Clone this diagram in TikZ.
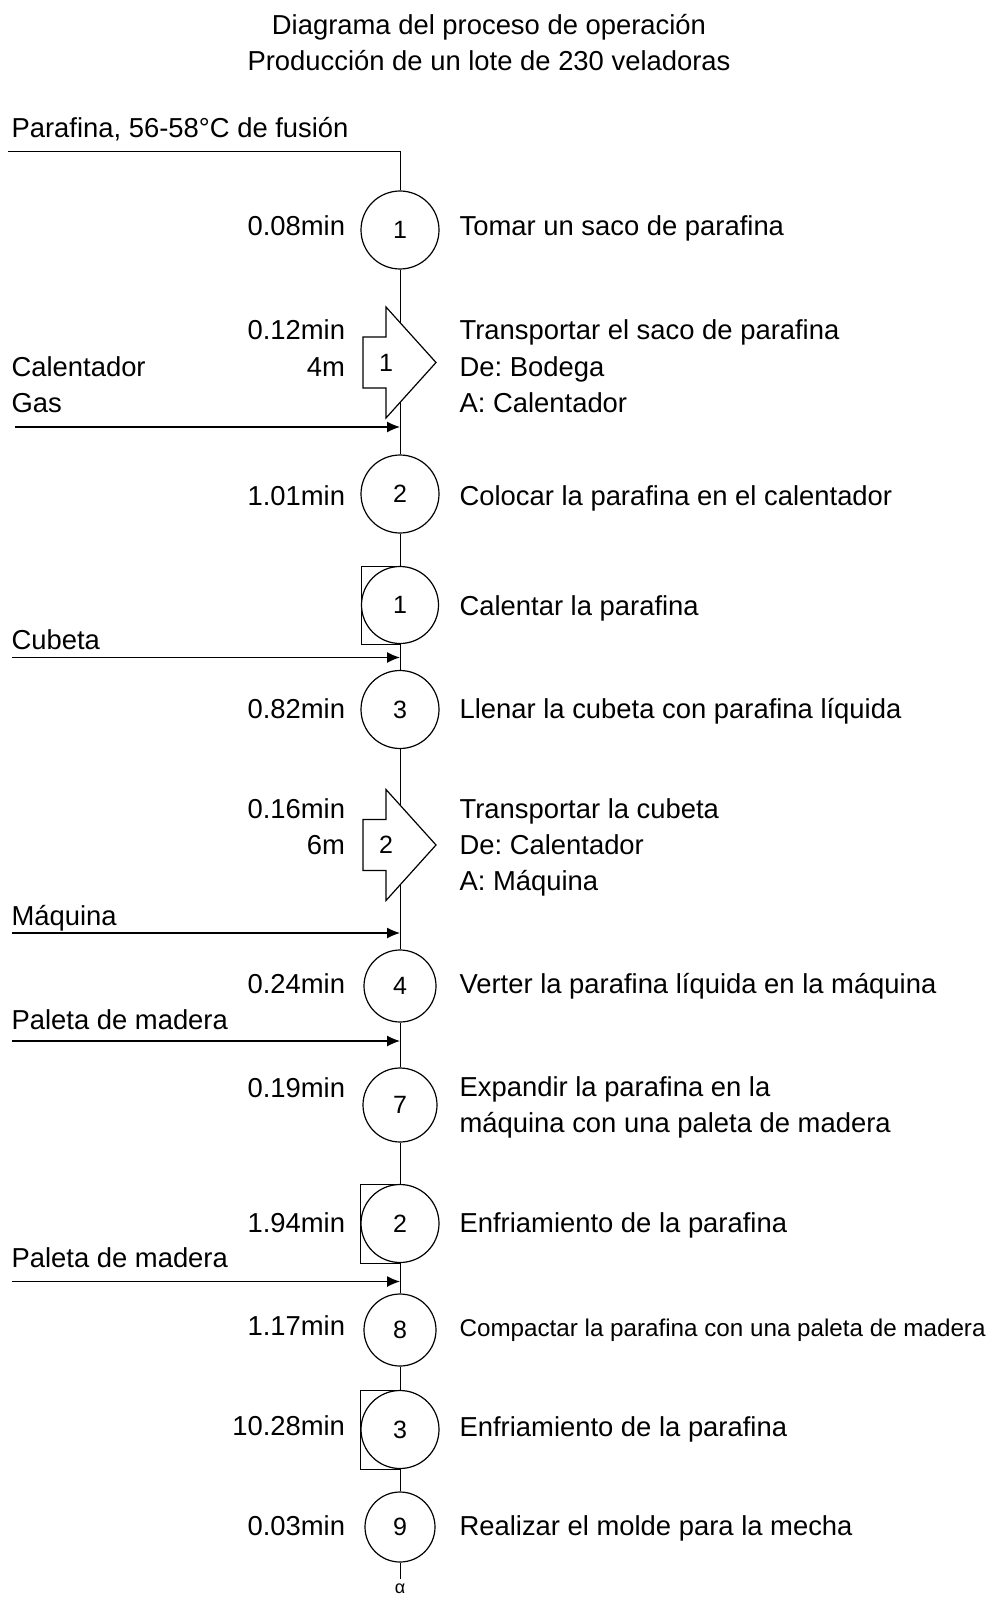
\documentclass[tikz,border=0pt]{standalone}
\usepackage{fontspec}
\setmainfont{Liberation Sans}
\usetikzlibrary{arrows.meta,backgrounds}

\begin{document}
\frenchspacing
\begin{tikzpicture}[x=0.5pt,y=-0.5pt,line width=0.6pt,font=\fontsize{13.7}{18}\selectfont]
\tikzstyle{every node}+=[inner sep=0pt]
\tikzstyle{op}=[circle, draw, fill=white, minimum size=39pt, font=\fontsize{12.5}{14}\selectfont]
\tikzstyle{num}=[font=\fontsize{12.5}{14}\selectfont]
\tikzstyle{izq}=[anchor=base east, align=right]
\tikzstyle{der}=[anchor=base west, align=left]
\tikzstyle{flecha}=[-{Latex[length=6.5pt,width=5.5pt]}]
\tikzset{pics/transporte/.style={code={
  \draw[fill=white] (-37,-25.5) -- (-14,-25.5) -- (-14,-55.5) -- (36,0) -- (-14,55.5) -- (-14,25.5) -- (-37,25.5) -- cycle;
}}}
\useasboundingbox (0,0) rectangle (990,1599);

\node[anchor=base] (titulo1) at (489,35) {Diagrama del proceso de operación};
\node[anchor=base] (titulo2) at (489,71) {Producción de un lote de 230 veladoras};

\node[der] (parafina) at (11,138) {Parafina, 56-58°C de fusión};
\coordinate (e0) at (8,151);

\node[op] (o1) at (400,230) {1};
\node[izq] (to1) at (345.6,236) {0.08min};
\node[der] (do1) at (459,236) {Tomar un saco de parafina};

\coordinate (tr1) at (400,362.5);
\pic at (tr1) {transporte};
\node[num] (ntr1) at (386,362.5) {1};
\node[izq] (ttr1) at (345.6,376) {0.12min\\4m};
\node[der] (dtr1) at (459,412) {Transportar el saco de parafina\\De: Bodega\\A: Calentador};

\node[der] (calentador) at (11,412) {Calentador\\Gas};
\coordinate (e1) at (15,427);

\node[op] (o2) at (400,494) {2};
\node[izq] (to2) at (345.6,505) {1.01min};
\node[der] (do2) at (459,505) {Colocar la parafina en el calentador};

\node[op, minimum size=38.5pt] (c1) at (400,605) {1};
\node[der] (dc1) at (459,615) {Calentar la parafina};

\node[der] (cubeta) at (11,649) {Cubeta};
\coordinate (e2) at (12,657.5);

\node[op] (o3) at (400,709.5) {3};
\node[izq] (to3) at (345.6,718) {0.82min};
\node[der] (do3) at (459,718) {Llenar la cubeta con parafina líquida};

\coordinate (tr2) at (400,845);
\pic at (tr2) {transporte};
\node[num] (ntr2) at (386,845) {2};
\node[izq] (ttr2) at (345.6,854) {0.16min\\6m};
\node[der] (dtr2) at (459,890) {Transportar la cubeta\\De: Calentador\\A: Máquina};

\node[der] (maquina) at (11,925) {Máquina};
\coordinate (e3) at (12,933);

\node[op, minimum size=36pt] (o4) at (400,986) {4};
\node[izq] (to4) at (345.6,993) {0.24min};
\node[der] (do4) at (459,993) {Verter la parafina líquida en la máquina};

\node[der] (paleta1) at (11,1029) {Paleta de madera};
\coordinate (e4) at (12,1041);

\node[op, minimum size=37pt] (o7) at (400,1105) {7};
\node[izq] (to7) at (345.6,1097) {0.19min};
\node[der] (do7) at (459,1132) {Expandir la parafina en la\\máquina con una paleta de madera};

\node[op] (c2) at (400,1223.5) {2};
\node[izq] (tc2) at (345.6,1232) {1.94min};
\node[der] (dc2) at (459,1232) {Enfriamiento de la parafina};

\node[der] (paleta2) at (11,1267) {Paleta de madera};
\coordinate (e5) at (12,1281.5);

\node[op, minimum size=36pt] (o8) at (400,1330) {8};
\node[izq] (to8) at (345.6,1335) {1.17min};
\node[der, font=\fontsize{12.1}{14}\selectfont] (do8) at (459,1336) {Compactar la parafina con una paleta de madera};

\node[op] (c3) at (400,1429.5) {3};
\node[izq] (tc3) at (345.6,1435) {10.28min};
\node[der] (dc3) at (459,1436) {Enfriamiento de la parafina};

\node[op, minimum size=35pt] (o9) at (400,1527) {9};
\node[izq] (to9) at (345.6,1535) {0.03min};
\node[der] (do9) at (459,1535) {Realizar el molde para la mecha};

\node[inner sep=2pt, font=\fontsize{9}{10}\selectfont] (alfa) at (400,1589) {α};

\begin{scope}[on background layer]
\draw (e0) -- (e0 -| o1) -- (o1) -- (o2) -- (c1) -- (o3) -- (o4) -- (o7) -- (c2) -- (o8) -- (c3) -- (o9) -- (alfa);
\draw (c1.west |- c1.north) rectangle (c1.south);
\draw (c2.west |- c2.north) rectangle (c2.south);
\draw (c3.west |- c3.north) rectangle (c3.south);
\end{scope}

\draw[flecha] (e1) -- (e1 -| o2);
\draw[flecha] (e2) -- (e2 -| o3);
\draw[flecha] (e3) -- (e3 -| o4);
\draw[flecha] (e4) -- (e4 -| o7);
\draw[flecha] (e5) -- (e5 -| o8);
\end{tikzpicture}
\end{document}
